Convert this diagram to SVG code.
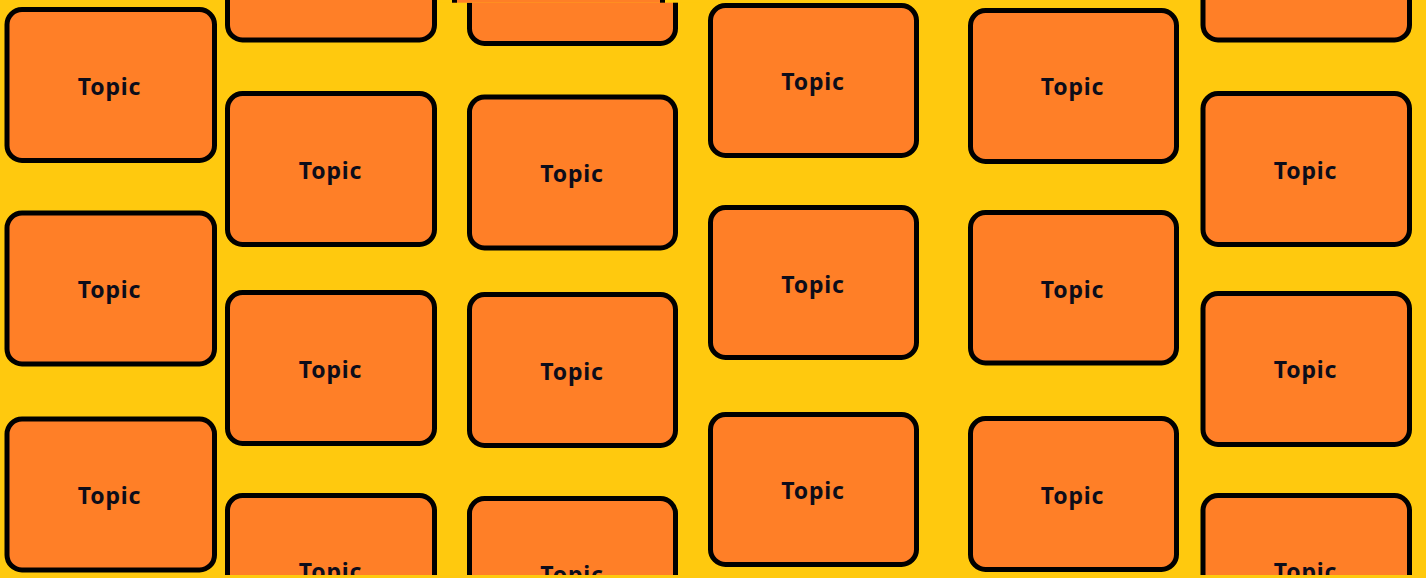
<svg xmlns="http://www.w3.org/2000/svg" width="1426" height="578" viewBox="0 0 1426 578">
  <defs>
    <style>
      .box { fill: #FF7F27; stroke: #000; stroke-width: 5; }
      .lbl { font-family: "Noto Sans", "Open Sans", sans-serif; font-weight: bold; font-size: 23px; letter-spacing: 0.8px; fill: #0d0d1a; text-anchor: middle; }
    </style>
    <clipPath id="clip"><rect x="0" y="0" width="1426" height="575"/></clipPath>
  </defs>
  <rect x="0" y="0" width="1426" height="578" fill="#FFC90E"/>
  <g clip-path="url(#clip)">
    <g id="c1r1"><rect class="box" x="7" y="9.5" width="207.5" height="151" rx="15"/><text class="lbl" x="109.5" y="94.5">Topic</text></g>
    <g id="c1r2"><rect class="box" x="7" y="213" width="207.5" height="151" rx="15"/><text class="lbl" x="109.5" y="297.5">Topic</text></g>
    <g id="c1r3"><rect class="box" x="7" y="419" width="207.5" height="151" rx="15"/><text class="lbl" x="109.5" y="503.5">Topic</text></g>

    <g id="c2r1"><rect class="box" x="227.5" y="-111" width="207" height="151" rx="15"/></g>
    <g id="c2r2"><rect class="box" x="227.5" y="93.5" width="207" height="151" rx="15"/><text class="lbl" x="330.5" y="178.5">Topic</text></g>
    <g id="c2r3"><rect class="box" x="227.5" y="292.5" width="207" height="151" rx="15"/><text class="lbl" x="330.5" y="377.5">Topic</text></g>
    <g id="c2r4"><rect class="box" x="227.5" y="495.5" width="207" height="151" rx="15"/><text class="lbl" x="330.5" y="580">Topic</text></g>

    <g id="c3r1"><rect class="box" x="469.5" y="-107.5" width="206" height="151" rx="15"/></g>
    <g id="c3r2"><rect class="box" x="469.5" y="97" width="206" height="151" rx="15"/><text class="lbl" x="572" y="181.5">Topic</text></g>
    <g id="c3r3"><rect class="box" x="469.5" y="294.5" width="206" height="151" rx="15"/><text class="lbl" x="572" y="379.5">Topic</text></g>
    <g id="c3r4"><rect class="box" x="469.5" y="498.5" width="206" height="151" rx="15"/><text class="lbl" x="572" y="583">Topic</text></g>

    <g id="c4r1"><rect class="box" x="710.5" y="5.5" width="206" height="150" rx="15"/><text class="lbl" x="813" y="90">Topic</text></g>
    <g id="c4r2"><rect class="box" x="710.5" y="207.5" width="206" height="150" rx="15"/><text class="lbl" x="813" y="292.5">Topic</text></g>
    <g id="c4r3"><rect class="box" x="710.5" y="414.5" width="206" height="150" rx="15"/><text class="lbl" x="813" y="499">Topic</text></g>

    <g id="c5r1"><rect class="box" x="970.5" y="10.5" width="206" height="151" rx="15"/><text class="lbl" x="1072.5" y="95">Topic</text></g>
    <g id="c5r2"><rect class="box" x="970.5" y="212.5" width="206" height="150.5" rx="15"/><text class="lbl" x="1072.5" y="298">Topic</text></g>
    <g id="c5r3"><rect class="box" x="970.5" y="418.5" width="206" height="151" rx="15"/><text class="lbl" x="1072.5" y="503.5">Topic</text></g>

    <g id="c6r1"><rect class="box" x="1203" y="-111" width="206.5" height="151" rx="15"/></g>
    <g id="c6r2"><rect class="box" x="1203" y="93.5" width="206.5" height="151" rx="15"/><text class="lbl" x="1305.5" y="178.5">Topic</text></g>
    <g id="c6r3"><rect class="box" x="1203" y="293.5" width="206.5" height="151" rx="15"/><text class="lbl" x="1305.5" y="378">Topic</text></g>
    <g id="c6r4"><rect class="box" x="1203" y="495.5" width="206.5" height="151" rx="15"/><text class="lbl" x="1305.5" y="580">Topic</text></g>
  </g>
  <g id="top-strip">
    <rect x="440" y="0" width="260" height="2.7" fill="#FFC90E"/>
    <rect x="452" y="0" width="213" height="2.7" fill="#FF7F27"/>
    <rect x="452" y="0" width="5" height="2.7" fill="#000"/>
    <rect x="660" y="0" width="5" height="2.7" fill="#000"/>
  </g>
  <g id="connectors"/>
</svg>
